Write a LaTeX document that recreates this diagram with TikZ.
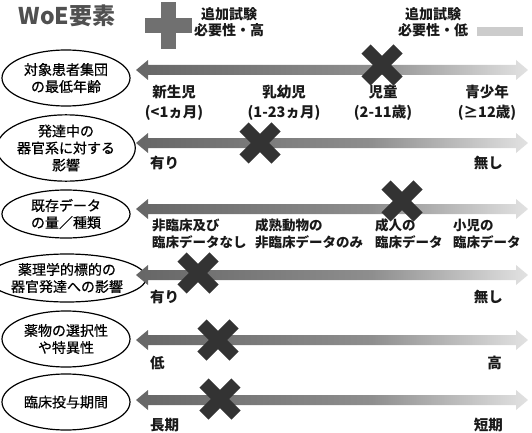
\documentclass[tikz,border=0pt]{standalone}
\usepackage{fontspec}
\setmainfont{Noto Sans CJK JP}
\newfontfamily\jpmed[FakeBold=0.6]{Noto Sans CJK JP}
\usetikzlibrary{shapes.geometric}
\definecolor{ga}{HTML}{666666}
\definecolor{gb}{HTML}{8E8E8E}
\definecolor{gc}{HTML}{E2E2E2}
\definecolor{xdark}{HTML}{333333}
\definecolor{plusgray}{HTML}{707070}
\definecolor{minusgray}{HTML}{CCCCCC}
\definecolor{titlegray}{HTML}{505050}
\pgfdeclarehorizontalshading{arrowshade}{100bp}{color(0bp)=(ga); color(25bp)=(ga); color(55bp)=(gb); color(75bp)=(gc); color(100bp)=(gc)}
\tikzset{
  pics/dblarrow/.style={code={
    \shade[shading=arrowshade] (136,0) -- (148,-10) -- (148,-5) -- (516,-5) -- (516,-10) -- (528,0) -- (516,10) -- (516,5) -- (148,5) -- (148,10) -- cycle;
  }},
  pics/xcross/.style={code={
    \draw[line width=13pt, xdark] (-16,-16) -- (16,16) (-16,16) -- (16,-16);
  }},
  ellbox/.style={ellipse, draw, line width=1.2pt, inner sep=0pt, minimum width=128pt, align=center, font=\jpmed\fontsize{14}{17}\selectfont},
  lab/.style={font=\bfseries\fontsize{14.5}{20}\selectfont, inner sep=0pt, align=center, text=black!90},
  lab3/.style={font=\bfseries\fontsize{13.5}{17}\selectfont, inner sep=0pt, align=left, anchor=west, text=black!90},
  hdr/.style={font=\bfseries\fontsize{14}{16}\selectfont, inner sep=0pt, align=center, text=black!90}
}
\begin{document}
\begin{tikzpicture}[x=1pt,y=-1pt]
\useasboundingbox (0,0) rectangle (532,433);
% header
\node[font=\bfseries\fontsize{23}{25}\selectfont, text=titlegray, inner sep=0pt] (title) at (67,16) {WoE要素};
\fill[plusgray] (144.5,18.5) rectangle (191.5,33.5);
\fill[plusgray] (160.5,2.5) rectangle (175.5,49.5);
\node[hdr] (hi) at (229,22) {追加試験\\必要性・高};
\node[hdr] (lo) at (433,22) {追加試験\\必要性・低};
\fill[minusgray] (477,27) rectangle (523,36);
% ellipses
\node[ellbox, minimum height=56pt] (e1) at (66,78) {対象患者集団\\の最低年齢};
\node[ellbox, minimum height=64pt] (e2) at (66,148) {発達中の\\器官系に対する\\影響};
\node[ellbox, minimum height=48pt] (e3) at (66,214) {既存データ\\の量／種類};
\node[ellbox, minimum height=48pt, minimum width=130pt] (e4) at (67,278) {薬理学的標的の\\器官発達への影響};
\node[ellbox, minimum height=56pt] (e5) at (66,339) {薬物の選択性\\や特異性};
\node[ellbox, minimum height=56pt] (e6) at (66,402) {臨床投与期間};
% arrows
\pic at (0,70) {dblarrow};
\pic at (0,143) {dblarrow};
\pic at (0,209) {dblarrow};
\pic at (0,275) {dblarrow};
\pic at (0,340) {dblarrow};
\pic at (0,400) {dblarrow};
% labels row 1
\node[lab] (l1a) at (174,103) {新生児\\(<1ヵ月)};
\node[lab] (l1b) at (284,103) {乳幼児\\(1-23ヵ月)};
\node[lab] (l1c) at (383,103) {児童\\(2-11歳)};
\node[lab] (l1d) at (487,103) {青少年\\(≥12歳)};
% row 2
\node[lab, anchor=west] (l2a) at (150,163) {有り};
\node[lab, anchor=east] (l2b) at (503,163) {無し};
% row 3
\node[lab3] (l3a) at (152,233.5) {非臨床及び\\臨床データなし};
\node[lab3] (l3b) at (255,233.5) {成熟動物の\\非臨床データのみ};
\node[lab3] (l3c) at (375,233.5) {成人の\\臨床データ};
\node[lab3] (l3d) at (453,233.5) {小児の\\臨床データ};
% row 4
\node[lab, anchor=west] (l4a) at (150,297) {有り};
\node[lab, anchor=east] (l4b) at (503,297) {無し};
% row 5
\node[lab, anchor=west] (l5a) at (150,363) {低};
\node[lab, anchor=east] (l5b) at (502,363) {高};
% row 6
\node[lab, anchor=west] (l6a) at (150,425) {長期};
\node[lab, anchor=east] (l6b) at (503,425) {短期};
% crosses
\pic at (382,65) {xcross};
\pic at (260,143) {xcross};
\pic at (402,201) {xcross};
\pic at (198,273) {xcross};
\pic at (218,340) {xcross};
\pic at (220,399) {xcross};
\end{tikzpicture}
\end{document}
